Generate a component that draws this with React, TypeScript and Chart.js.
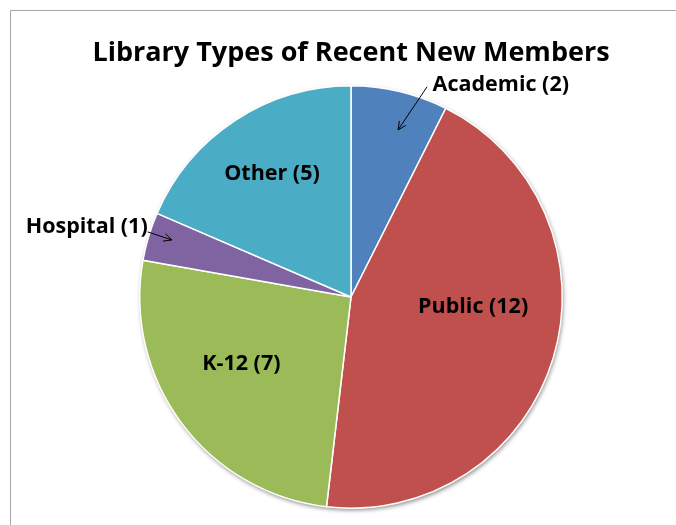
import React, { useEffect, useRef } from "react";
import { Chart, registerables } from "chart.js";

Chart.register(...registerables);

const categories = ["Academic", "Public", "K-12", "Hospital", "Other"];
const counts = [2, 12, 7, 1, 5];
const sliceColors = ["#4F81BD", "#C0504D", "#9BBB59", "#8064A2", "#4BACC6"];
const chartTitle = "Library Types of Recent New Members";

// Label layout (relative to pie centre, in units of the radius)
const labelPos: [number, number][] = [
  [0.709, -1.012],
  [0.578, 0.04],
  [-0.519, 0.308],
  [-1.251, -0.339],
  [-0.374, -0.59],
];
// leader arrows: [labelIndex, startX, startY, tipX, tipY] in radius units
const arrows: [number, number, number, number, number][] = [
  [0, 0.36, -0.995, 0.223, -0.791],
  [3, -0.962, -0.308, -0.848, -0.27],
];

const FONT = "'Open Sans', Lato, sans-serif";

const decorPlugin = {
  id: "decor",
  beforeDraw(chart: any) {
    const ctx = chart.ctx;
    ctx.save();
    ctx.fillStyle = "#ffffff";
    ctx.fillRect(0, 0, chart.width, chart.height);
    ctx.strokeStyle = "#A6A6A6";
    ctx.lineWidth = 1;
    ctx.beginPath();
    ctx.moveTo(10.5, chart.height + 5);
    ctx.lineTo(10.5, 10.5);
    ctx.lineTo(chart.width + 5, 10.5);
    ctx.stroke();
    ctx.restore();
  },
  beforeDatasetsDraw(chart: any) {
    const meta = chart.getDatasetMeta(0);
    const arc = meta.data[0];
    if (!arc) return;
    const { x, y, outerRadius } = arc.getProps(["x", "y", "outerRadius"], true);
    const ctx = chart.ctx;
    ctx.save();
    ctx.shadowColor = "rgba(0,0,0,0.45)";
    ctx.shadowBlur = 4;
    ctx.shadowOffsetX = 1;
    ctx.shadowOffsetY = 2;
    ctx.fillStyle = "#ffffff";
    ctx.beginPath();
    ctx.arc(x, y, outerRadius, 0, Math.PI * 2);
    ctx.fill();
    ctx.restore();
  },
  afterDraw(chart: any) {
    const ctx = chart.ctx;
    const meta = chart.getDatasetMeta(0);
    const arc = meta.data[0];
    const { x, y, outerRadius: r } = arc.getProps(["x", "y", "outerRadius"], true);
    ctx.save();
    // title
    ctx.fillStyle = "#000000";
    ctx.textAlign = "center";
    ctx.textBaseline = "alphabetic";
    ctx.font = `bold 27px ${FONT}`;
    ctx.fillText(chartTitle, x, 61);
    // labels
    const fs = 21.5;
    ctx.font = `bold ${fs}px ${FONT}`;
    categories.forEach((c, i) => {
      const [dx, dy] = labelPos[i];
      ctx.fillText(`${c} (${counts[i]})`, x + dx * r, y + dy * r + fs * 0.36);
    });
    // arrows
    ctx.strokeStyle = "#000000";
    ctx.lineWidth = 1;
    arrows.forEach(([, sx, sy, tx, ty]) => {
      const x1 = x + sx * r, y1 = y + sy * r, x2 = x + tx * r, y2 = y + ty * r;
      ctx.beginPath();
      ctx.moveTo(x1, y1);
      ctx.lineTo(x2, y2);
      const a = Math.atan2(y2 - y1, x2 - x1);
      const L = 9, w = 0.45;
      ctx.moveTo(x2 - L * Math.cos(a - w), y2 - L * Math.sin(a - w));
      ctx.lineTo(x2, y2);
      ctx.lineTo(x2 - L * Math.cos(a + w), y2 - L * Math.sin(a + w));
      ctx.stroke();
    });
    ctx.restore();
  },
};

export default function App() {
  const ref = useRef<HTMLCanvasElement>(null);
  useEffect(() => {
    const canvas = ref.current!;
    const chart = new Chart(canvas, {
      type: "pie",
      data: {
        labels: categories,
        datasets: [
          {
            data: counts,
            backgroundColor: sliceColors,
            borderColor: "#ffffff",
            borderWidth: 1.5,
          },
        ],
      },
      options: {
        responsive: false,
        animation: false,
        layout: { padding: { left: 139, right: 113, top: 85, bottom: 16 } },
        plugins: {
          legend: { display: false },
          title: { display: false },
          tooltip: { enabled: false },
        },
      },
      plugins: [decorPlugin],
    });
    return () => chart.destroy();
  }, []);
  return (
    <div style={{ position: "fixed", left: 0, top: 0, width: 676, height: 525, background: "#fff" }}>
      <canvas ref={ref} width={676} height={525} style={{ width: 676, height: 525 }} />
    </div>
  );
}
